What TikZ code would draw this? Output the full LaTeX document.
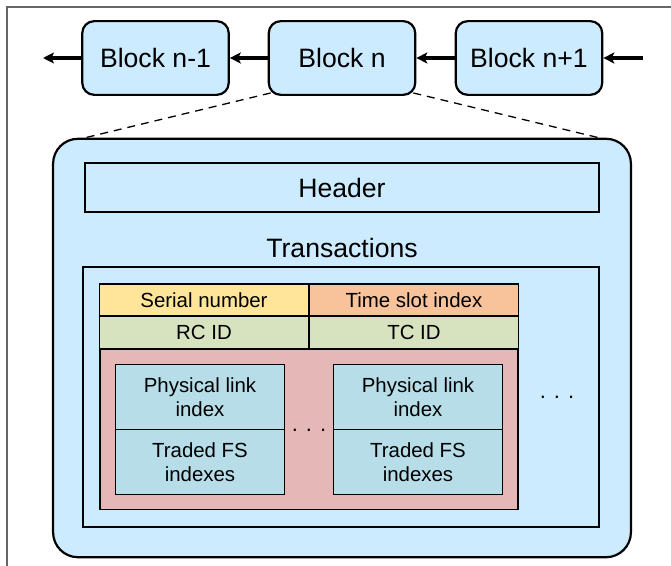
\documentclass[tikz,border=0pt]{standalone}
\usepackage{fontspec}
\setmainfont{Liberation Sans}
\usetikzlibrary{arrows.meta}
\tikzset{>={Stealth[length=11pt,width=11pt,inset=2.5pt]}}
\definecolor{blkblue}{RGB}{204,235,255}
\definecolor{serialyel}{RGB}{255,229,153}
\definecolor{slotorg}{RGB}{248,195,155}
\definecolor{idgreen}{RGB}{215,226,191}
\definecolor{tradepink}{RGB}{229,184,183}
\definecolor{linkteal}{RGB}{183,221,232}
\tikzset{
	bigfont/.style={font=\fontsize{26.7}{30}\selectfont},
	blk/.style={draw, line width=2.2pt, rounded corners=12pt, fill=blkblue, minimum width=147, minimum height=74, inner sep=0pt, bigfont},
	cell/.style={draw, line width=1.5pt, minimum height=32.5, inner sep=0pt, font=\fontsize{20.5}{24}\selectfont},
	lnk/.style={cell, fill=linkteal, minimum width=170, minimum height=65, align=center},
	chain/.style={->, line width=3.4pt},
	gap/.style={anchor=base, inner sep=0pt, font=\fontsize{22}{24}\selectfont},
}
\begin{document}
\begin{tikzpicture}[x=1bp, y=-1bp]
	\useasboundingbox (0,0) rectangle (671,566);
	\draw[black!60, line width=1.2pt] (7,566) -- (7,7) -- (671,7);

	% chain of blocks
	\node[blk] (prev) at (155.5,58) {Block n-1};
	\node[blk] (cur) at (342,58) {Block n};
	\node[blk] (next) at (529,58) {Block n+1};
	\coordinate (lend) at (43,58);
	\coordinate (rend) at (643,58);
	\draw[chain] (prev) -- (lend);
	\draw[chain] (cur) -- (prev);
	\draw[chain] (next) -- (cur);
	\draw[chain] (rend) -- (next);

	% block content
	\node[draw, line width=2.2pt, rounded corners=25pt, fill=blkblue, minimum width=580, minimum height=420, inner sep=0pt] (block) at (342,348) {};
	\coordinate (bl) at (82,138.5);
	\coordinate (br) at (602,138.5);
	\draw[line width=1.3pt, dash pattern=on 8pt off 6pt] ([xshift=3pt,yshift=3pt]cur.south west) -- (bl);
	\draw[line width=1.3pt, dash pattern=on 8pt off 6pt] ([xshift=-3pt,yshift=3pt]cur.south east) -- (br);

	\node[draw, line width=2pt, minimum width=516, minimum height=49, inner sep=0pt, bigfont] (header) at (342,187.5) {Header};
	\node[bigfont] (translabel) at (342,248) {Transactions};
	\node[draw, line width=2pt, minimum width=518, minimum height=260, inner sep=0pt] (trans) at (341,397) {};

	\node[cell, fill=serialyel, minimum width=210] (serial) at (204,300) {Serial number};
	\node[cell, fill=slotorg, minimum width=210] (slot) at (414,300) {Time slot index};
	\node[cell, fill=idgreen, minimum width=210] (rcid) at (204,332.5) {RC ID};
	\node[cell, fill=idgreen, minimum width=210] (tcid) at (414,332.5) {TC ID};
	\node[cell, fill=tradepink, minimum width=420, minimum height=161] (trade) at (309,429.5) {};

	\node[lnk] (link1) at (200,397) {Physical link\\index};
	\node[lnk] (fs1) at (200,462) {Traded FS\\indexes};
	\node[lnk] (link2) at (418,397) {Physical link\\index};
	\node[lnk] (fs2) at (418,462) {Traded FS\\indexes};

	\node[gap] (dotsa) at (309,431) {.\hspace{8bp}.\hspace{8bp}.};
	\node[gap] (dotsb) at (557,398) {.\hspace{8bp}.\hspace{8bp}.};
\end{tikzpicture}
\end{document}
